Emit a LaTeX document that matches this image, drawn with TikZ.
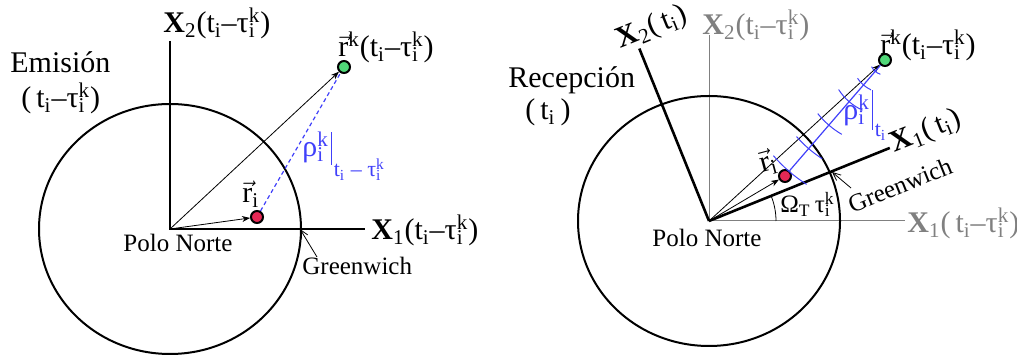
\documentclass[tikz,border=0pt]{standalone}
\usepackage{fontspec}
\setmainfont{Liberation Serif}
\usepackage{amsmath}
\usetikzlibrary{arrows.meta}
\definecolor{rayblue}{RGB}{64,64,250}
\definecolor{satgreen}{RGB}{80,215,120}
\definecolor{recred}{RGB}{230,40,85}
\newcommand\tauik{τ\rlap{\textsubscript{i}}\textsuperscript{k}}
\newcommand\tsub{t\textsubscript{i}}
\newcommand\rvec{\ensuremath{\vec{\text{r}}}}
\begin{document}
\begin{tikzpicture}[x=0.5pt,y=0.5pt,
  big/.style={inner sep=0pt,font=\fontsize{15}{18}\selectfont},
  small/.style={inner sep=0pt,font=\fontsize{12.5}{15}\selectfont},
  dot/.style={circle,draw,line width=1pt,inner sep=0pt,minimum size=6pt},
  vec/.style={-{Stealth[length=4pt,width=3pt]},line width=0.4pt},
  pointer/.style={-{Straight Barb[length=4pt,width=3.5pt]},line width=0.4pt}]
  \useasboundingbox (0,0) rectangle (1017,358);

  % emision
  \coordinate (O1) at (170,129);
  \coordinate (X1a) at (365,129);
  \coordinate (X2a) at (170,317);
  \coordinate (G1) at (300,129);
  \coordinate (gw1tail) at (317,101);
  \draw[line width=1pt] (O1) ellipse[x radius=131,y radius=125];
  \draw[line width=1pt] (X2a) -- (O1) -- (X1a);
  \node[dot,fill=satgreen] (sat1) at (344,291) {};
  \node[dot,fill=recred] (rec1) at (257,141) {};
  \draw[vec] (O1) -- (sat1);
  \draw[vec] (O1) -- (rec1);
  \draw[rayblue,dashed,dash pattern=on 2pt off 1.5pt,line width=0.6pt] (rec1) -- (sat1);
  \draw[pointer] (gw1tail) -- (G1);
  \node[big,anchor=base west] (x2a) at (163,325) {\textbf{X}\textsubscript{2}(\tsub–\tauik)};
  \node[big,anchor=base west] (x1a) at (371,118) {\textbf{X}\textsubscript{1}(\tsub–\tauik)};
  \node[big,anchor=base west] (sat1lab) at (338,301) {\rvec\textsuperscript{k}(\tsub–\tauik)};
  \node[big,anchor=base west] (rec1lab) at (242,155) {\rvec\textsubscript{i}};
  \node[big,anchor=base west,text=rayblue] (rho1) at (302,201)
    {ρ\rlap{\textsubscript{i}}\textsuperscript{k}\kern1pt\rule[-4pt]{0.5pt}{16.5pt}\kern1pt\raisebox{-10pt}{\fontsize{11}{12}\selectfont\tsub{} – \tauik}};
  \node[small,anchor=base west] (pn1) at (123,106) {Polo Norte};
  \node[small,anchor=base west] (gw1) at (302,83) {Greenwich};
  \node[big,anchor=base west] (em) at (10,285) {Emisión};
  \node[big,anchor=base west] (emt) at (21,250) {(\,\tsub–\tauik)};

  % recepcion
  \coordinate (O2) at (709,137);
  \coordinate (X1g) at (905,137);
  \coordinate (X2g) at (709,323);
  \coordinate (G2) at (832,186);
  \coordinate (gw2tail) at (851,170);
  \draw[black!50,line width=0.5pt] (X2g) -- (O2) -- (X1g);
  \draw[line width=1pt] (O2) ellipse[x radius=131,y radius=125];
  \draw[line width=1.3pt] (O2) -- ++(22:195) coordinate (X1b);
  \draw[line width=1.3pt] (O2) -- ++(112:186) coordinate (X2b);
  \draw[line width=0.4pt] (O2) ++(67,0) arc[start angle=0,end angle=22,radius=67];
  \node[dot,fill=satgreen] (sat2) at (885,298) {};
  \node[dot,fill=recred] (rec2) at (785,182) {};
  \draw[vec] (O2) -- (sat2);
  \draw[vec] (O2) -- (rec2);
  \draw[rayblue,line width=0.6pt] (rec2) -- (sat2);
  \foreach \d/\h in {147/22,117/17,86/16,55/16,33/9,15/6}
    \draw[rayblue,line width=0.5pt] (sat2) ++({229.2-\h/\d*57.3}:\d)
      arc[start angle={229.2-\h/\d*57.3},end angle={229.2+\h/\d*57.3},radius=\d];
  \draw[pointer] (gw2tail) -- (G2);
  \node[big,anchor=base west,text=black!50] (x2g) at (702,323) {\textbf{X}\textsubscript{2}(\tsub–\tauik)};
  \node[big,anchor=base west,text=black!50] (x1g) at (907,125) {\textbf{X}\textsubscript{1}(\,\tsub–\tauik)};
  \node[big,rotate=22] (x1b) at (926,226) {\textbf{X}\textsubscript{1}(\,\tsub)};
  \node[big,rotate=22] (x2b) at (652,330) {\textbf{X}\textsubscript{2}(\,\tsub)};
  \node[big,anchor=base west] (sat2lab) at (880,303) {\rvec\textsuperscript{k}(\tsub–\tauik)};
  \node[big,rotate=15] (rec2lab) at (768,196) {\rvec\textsubscript{i}};
  \node[big,anchor=base west,text=rayblue] (rho2) at (843,238)
    {ρ\rlap{\textsubscript{i}}\textsuperscript{k}\kern1pt\rule[-5pt]{0.5pt}{20pt}\kern1pt\raisebox{-8.5pt}{\fontsize{11}{12}\selectfont\tsub}};
  \node[small,anchor=base west] (om) at (780,145) {Ω\textsubscript{T}\,\tauik};
  \node[small,anchor=base west] (pn2) at (652,111) {Polo Norte};
  \node[small,rotate=22] (gw2) at (900,173) {Greenwich};
  \node[big,anchor=base west] (rc) at (508,270) {Recepción};
  \node[big,anchor=base west] (rct) at (525,238) {(\,\tsub\,)};
\end{tikzpicture}
\end{document}
